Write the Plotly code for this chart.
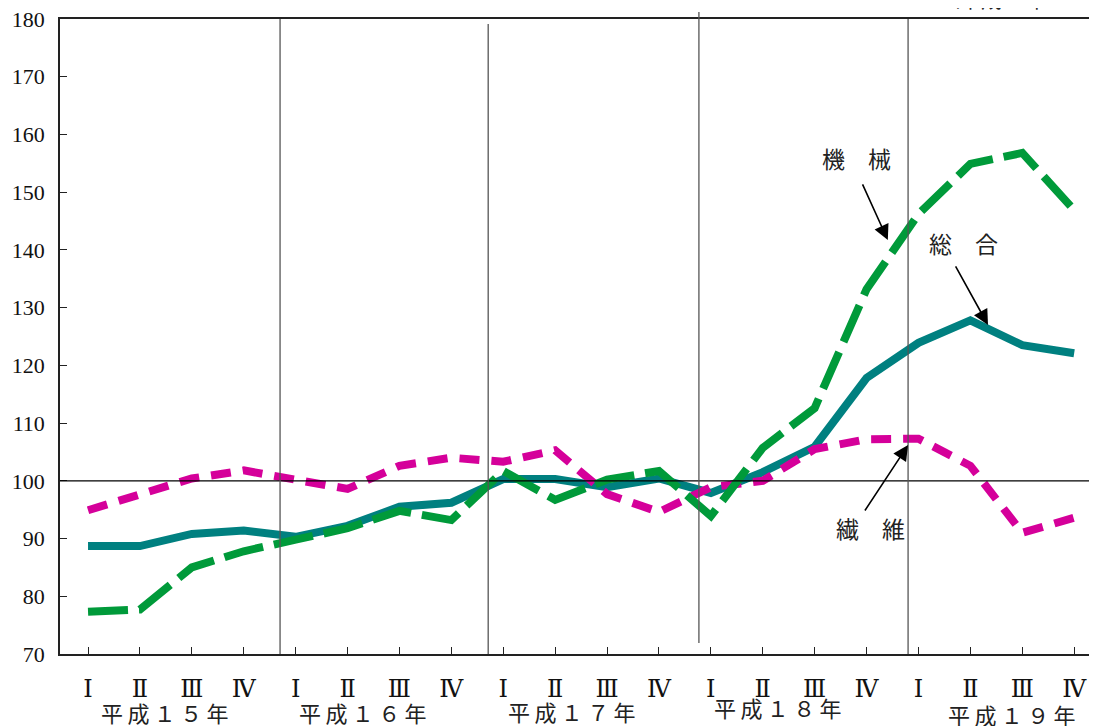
import plotly.graph_objects as go

# ---- data ----
quarters = ["Ⅰ", "Ⅱ", "Ⅲ", "Ⅳ"] * 5
years = ["平成１５年", "平成１６年", "平成１７年", "平成１８年", "平成１９年"]
sogo = [88.7, 88.7, 90.8, 91.4, 90.3, 92.2, 95.5, 96.2, 100.3, 100.3,
        98.9, 100.4, 97.9, 101.5, 105.9, 117.8, 123.9, 127.8, 123.5, 122.1]
kikai = [77.3, 77.7, 85.0, 87.8, 89.8, 91.8, 94.8, 93.2, 101.7, 96.7,
         100.2, 101.7, 93.9, 105.7, 112.6, 133.2, 146.2, 154.9, 156.8, 146.9]
seni = [94.9, 97.7, 100.4, 101.8, 100.1, 98.6, 102.6, 104.0, 103.3, 105.3,
        97.7, 94.6, 98.9, 100.0, 105.5, 107.2, 107.3, 102.6, 91.0, 93.6]
series_names = ["総　合", "機　械", "繊　維"]

x = list(range(len(quarters)))

fig = go.Figure()
fig.add_trace(go.Scatter(x=x, y=sogo, mode="lines", name=series_names[0],
                         line=dict(color="#008080", width=8)))
fig.add_trace(go.Scatter(x=x, y=seni, mode="lines", name=series_names[2],
                         line=dict(color="#D5009A", width=8, dash="20px,12px")))
fig.add_trace(go.Scatter(x=x, y=kikai, mode="lines", name=series_names[1],
                         line=dict(color="#009A3A", width=8, dash="40px,11px")))
# dummy trace for right mirrored ticks axis
fig.add_trace(go.Scatter(x=[None], y=[None], yaxis="y2", showlegend=False,
                         hoverinfo="skip"))

serif = "Liberation Serif, DejaVu Serif, serif"
jp = "Noto Sans CJK JP"

fig.update_layout(
    width=1089, height=718,
    margin=dict(l=52, r=0, t=11, b=72),
    paper_bgcolor="white", plot_bgcolor="white",
    showlegend=False,
    xaxis=dict(range=[-0.54, 19.44], tickvals=x, ticktext=quarters,
               ticks="inside", ticklen=7, tickcolor="#222", tickwidth=1.3,
               showline=True, linecolor="#222", linewidth=1.5, mirror=True,
               showgrid=False, zeroline=False, ticklabelstandoff=12,
               ticklabeloverflow="allow",
               tickfont=dict(family=serif, size=24, color="#111")),
    yaxis=dict(range=[70, 180], dtick=10, ticks="inside", ticklen=7,
               tickcolor="#222", tickwidth=1.3,
               showline=True, linecolor="#222", linewidth=1.5,
               showgrid=False, zeroline=False, ticklabelstandoff=9,
               ticklabeloverflow="allow",
               tickfont=dict(family=serif, size=22, color="#111")),
    yaxis2=dict(range=[70, 180], dtick=10, overlaying="y", side="right",
                ticks="inside", ticklen=7, tickcolor="#222", tickwidth=1.3,
                showline=False, showgrid=False, zeroline=False,
                showticklabels=False),
)

# horizontal reference line at 100
fig.add_shape(type="line", xref="paper", yref="y", x0=0, x1=1, y0=100, y1=100,
              line=dict(color="black", width=1.3), layer="above")

# vertical year separators (x in data units, y in paper)
seps = [(3.70, 0.0, 1.0), (7.71, 0.0, 0.992), (11.77, 0.0173, 1.011), (15.80, 0.0, 1.0)]
for sx, sy0, sy1 in seps:
    fig.add_shape(type="line", xref="x", yref="paper", x0=sx, x1=sx, y0=sy0, y1=sy1,
                  line=dict(color="#555", width=1.3), layer="above")

# year labels
year_pos = [(1.48, -0.092), (5.30, -0.092), (9.33, -0.089), (13.30, -0.083), (17.80, -0.0945)]
for txt, (yx, yy) in zip(years, year_pos):
    spaced = "\u2009".join(txt)
    fig.add_annotation(x=yx, y=yy, xref="x", yref="paper", text=spaced, showarrow=False,
                       font=dict(family=jp, size=22, color="#222"),
                       xanchor="center", yanchor="middle")

# labels with arrows
labels = [
    (series_names[1], 14.8, 155.9, 15.41, 141.7, 14.91, 151.6),
    (series_names[0], 16.86, 141.2, 17.34, 127.0, 16.70, 137.4),
    (series_names[2], 15.07, 91.8, 15.80, 106.2, 14.95, 94.6),
]
for txt, tx, ty, hx, hy, ax, ay in labels:
    fig.add_annotation(x=tx, y=ty, xref="x", yref="y", text=txt, showarrow=False,
                       font=dict(family=jp, size=23, color="#222"))
    fig.add_annotation(x=hx, y=hy, xref="x", yref="y", ax=ax, ay=ay,
                       axref="x", ayref="y", text="", showarrow=True,
                       arrowhead=2, arrowsize=1.9, arrowwidth=1.6, arrowcolor="black")

# partially visible unit note at top
fig.add_annotation(x=0.846, y=1.006, xref="paper", yref="paper",
                   text="（平成17年＝100）", showarrow=False,
                   xanchor="left", yanchor="bottom",
                   font=dict(family=jp, size=21, color="#222"))

fig.write_html("out.html")
